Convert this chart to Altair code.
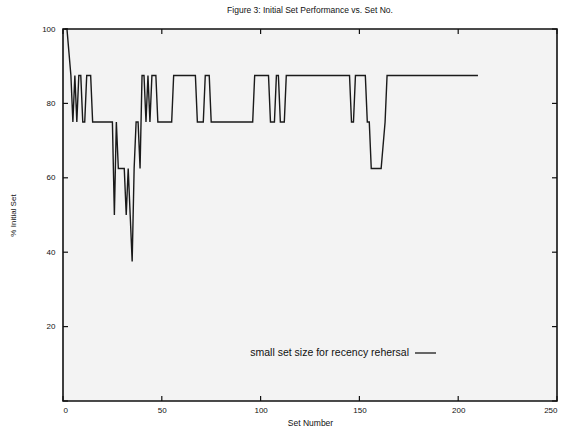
import altair as alt
import pandas as pd

# ---- data (breakpoints of the plotted polyline) ----
set_no = [1, 2, 3, 4, 5, 6, 7, 8, 9, 10, 11, 12, 14, 15, 25, 26, 27, 28, 31, 32, 33, 34, 35, 36, 37, 38, 39, 40,
          41, 42, 43, 44, 45, 47, 48, 55, 56, 67, 68, 71, 72, 74, 75, 96, 97, 104, 105, 107, 108, 109, 110, 112,
          113, 145, 146, 147, 148, 153, 154, 155, 156, 161, 163, 164, 210]
pct_initial = [100, 100, 93.75, 87.5, 75, 87.5, 75, 87.5, 87.5, 75, 75, 87.5, 87.5, 75, 75, 50, 75, 62.5, 62.5, 50,
               62.5, 50, 37.5, 62.5, 75, 75, 62.5, 87.5,
               87.5, 75, 87.5, 75, 87.5, 87.5, 75, 75, 87.5, 87.5, 75, 75, 87.5, 87.5, 75, 75, 87.5, 87.5, 75, 75,
               87.5, 87.5, 75, 75,
               87.5, 87.5, 75, 75, 87.5, 87.5, 75, 75, 62.5, 62.5, 75, 87.5, 87.5]

title_text = "Figure 3: Initial Set Performance vs. Set No."
x_title = "Set Number"
y_title = "% Initial Set"
legend_label = "small set size for recency rehersal"
x_ticks = [0, 50, 100, 150, 200, 250]
y_ticks = [0, 20, 40, 60, 80, 100]
y_tick_labels = [20, 40, 60, 80, 100]

FONT = "Liberation Sans"
INK = "#111111"
W, H = 494, 372

df = pd.DataFrame({"set_no": set_no, "pct": pct_initial})
xt = pd.DataFrame({"set_no": x_ticks})
yt = pd.DataFrame({"pct": y_ticks})
lg = pd.DataFrame({"label": [legend_label]})

xs = alt.Scale(domain=[0, 250], nice=False, zero=False)
ys = alt.Scale(domain=[0, 100], nice=False)

xaxis = alt.Axis(values=x_ticks, title=x_title, tickSize=0, domain=False, grid=False,
                 labelFont=FONT, labelFontSize=8, labelPadding=5, labelColor=INK,
                 titleFont=FONT, titleFontSize=8.5, titleFontWeight="normal", titleColor=INK,
                 titleY=21, titleBaseline="middle")
yaxis = alt.Axis(values=y_tick_labels, title=y_title, tickSize=0, domain=False, grid=False,
                 labelFont=FONT, labelFontSize=8, labelPadding=8, labelColor=INK,
                 titleFont=FONT, titleFontSize=8, titleFontWeight="normal", titleColor=INK,
                 titleX=-50, titleY=H / 2, titleAlign="center", titleBaseline="middle")

X = lambda: alt.X("set_no:Q", scale=xs, axis=xaxis)
Y = lambda: alt.Y("pct:Q", scale=ys, axis=yaxis)

line = alt.Chart(df).mark_line(color="#1a1a1a", strokeWidth=1.4).encode(x=X(), y=Y())

tick_style = dict(color="#111111", strokeWidth=1.2)
bottom_ticks = alt.Chart(xt).mark_rule(**tick_style).encode(x=X(), y=alt.value(H), y2=alt.value(H - 5))
top_ticks = alt.Chart(xt).mark_rule(**tick_style).encode(x=X(), y=alt.value(0), y2=alt.value(5))
left_ticks = alt.Chart(yt).mark_rule(**tick_style).encode(y=Y(), x=alt.value(0), x2=alt.value(5))
right_ticks = alt.Chart(yt).mark_rule(**tick_style).encode(y=Y(), x=alt.value(W), x2=alt.value(W - 5))

legend_text = alt.Chart(lg).mark_text(align="right", baseline="middle", font=FONT, fontSize=10.5,
                                      color=INK).encode(text="label:N", x=alt.value(346), y=alt.value(324))
legend_line = alt.Chart(lg).mark_rule(color="#1a1a1a", strokeWidth=1.3).encode(
    x=alt.value(352), x2=alt.value(373), y=alt.value(324))

chart = alt.layer(line, bottom_ticks, top_ticks, left_ticks, right_ticks, legend_text, legend_line).properties(
    width=W, height=H,
    title=alt.TitleParams(title_text, font=FONT, fontSize=8.5, fontWeight="normal", color=INK,
                          anchor="middle", offset=11),
    autosize=alt.AutoSizeParams(type="none"),
    padding={"left": 63, "top": 29, "right": 8, "bottom": 27},
    background="#ffffff",
).configure_view(stroke="#111111", strokeWidth=1.6, fill="#f3f3f3")

chart.save("out.html", embed_options={"renderer": "svg", "actions": False})
